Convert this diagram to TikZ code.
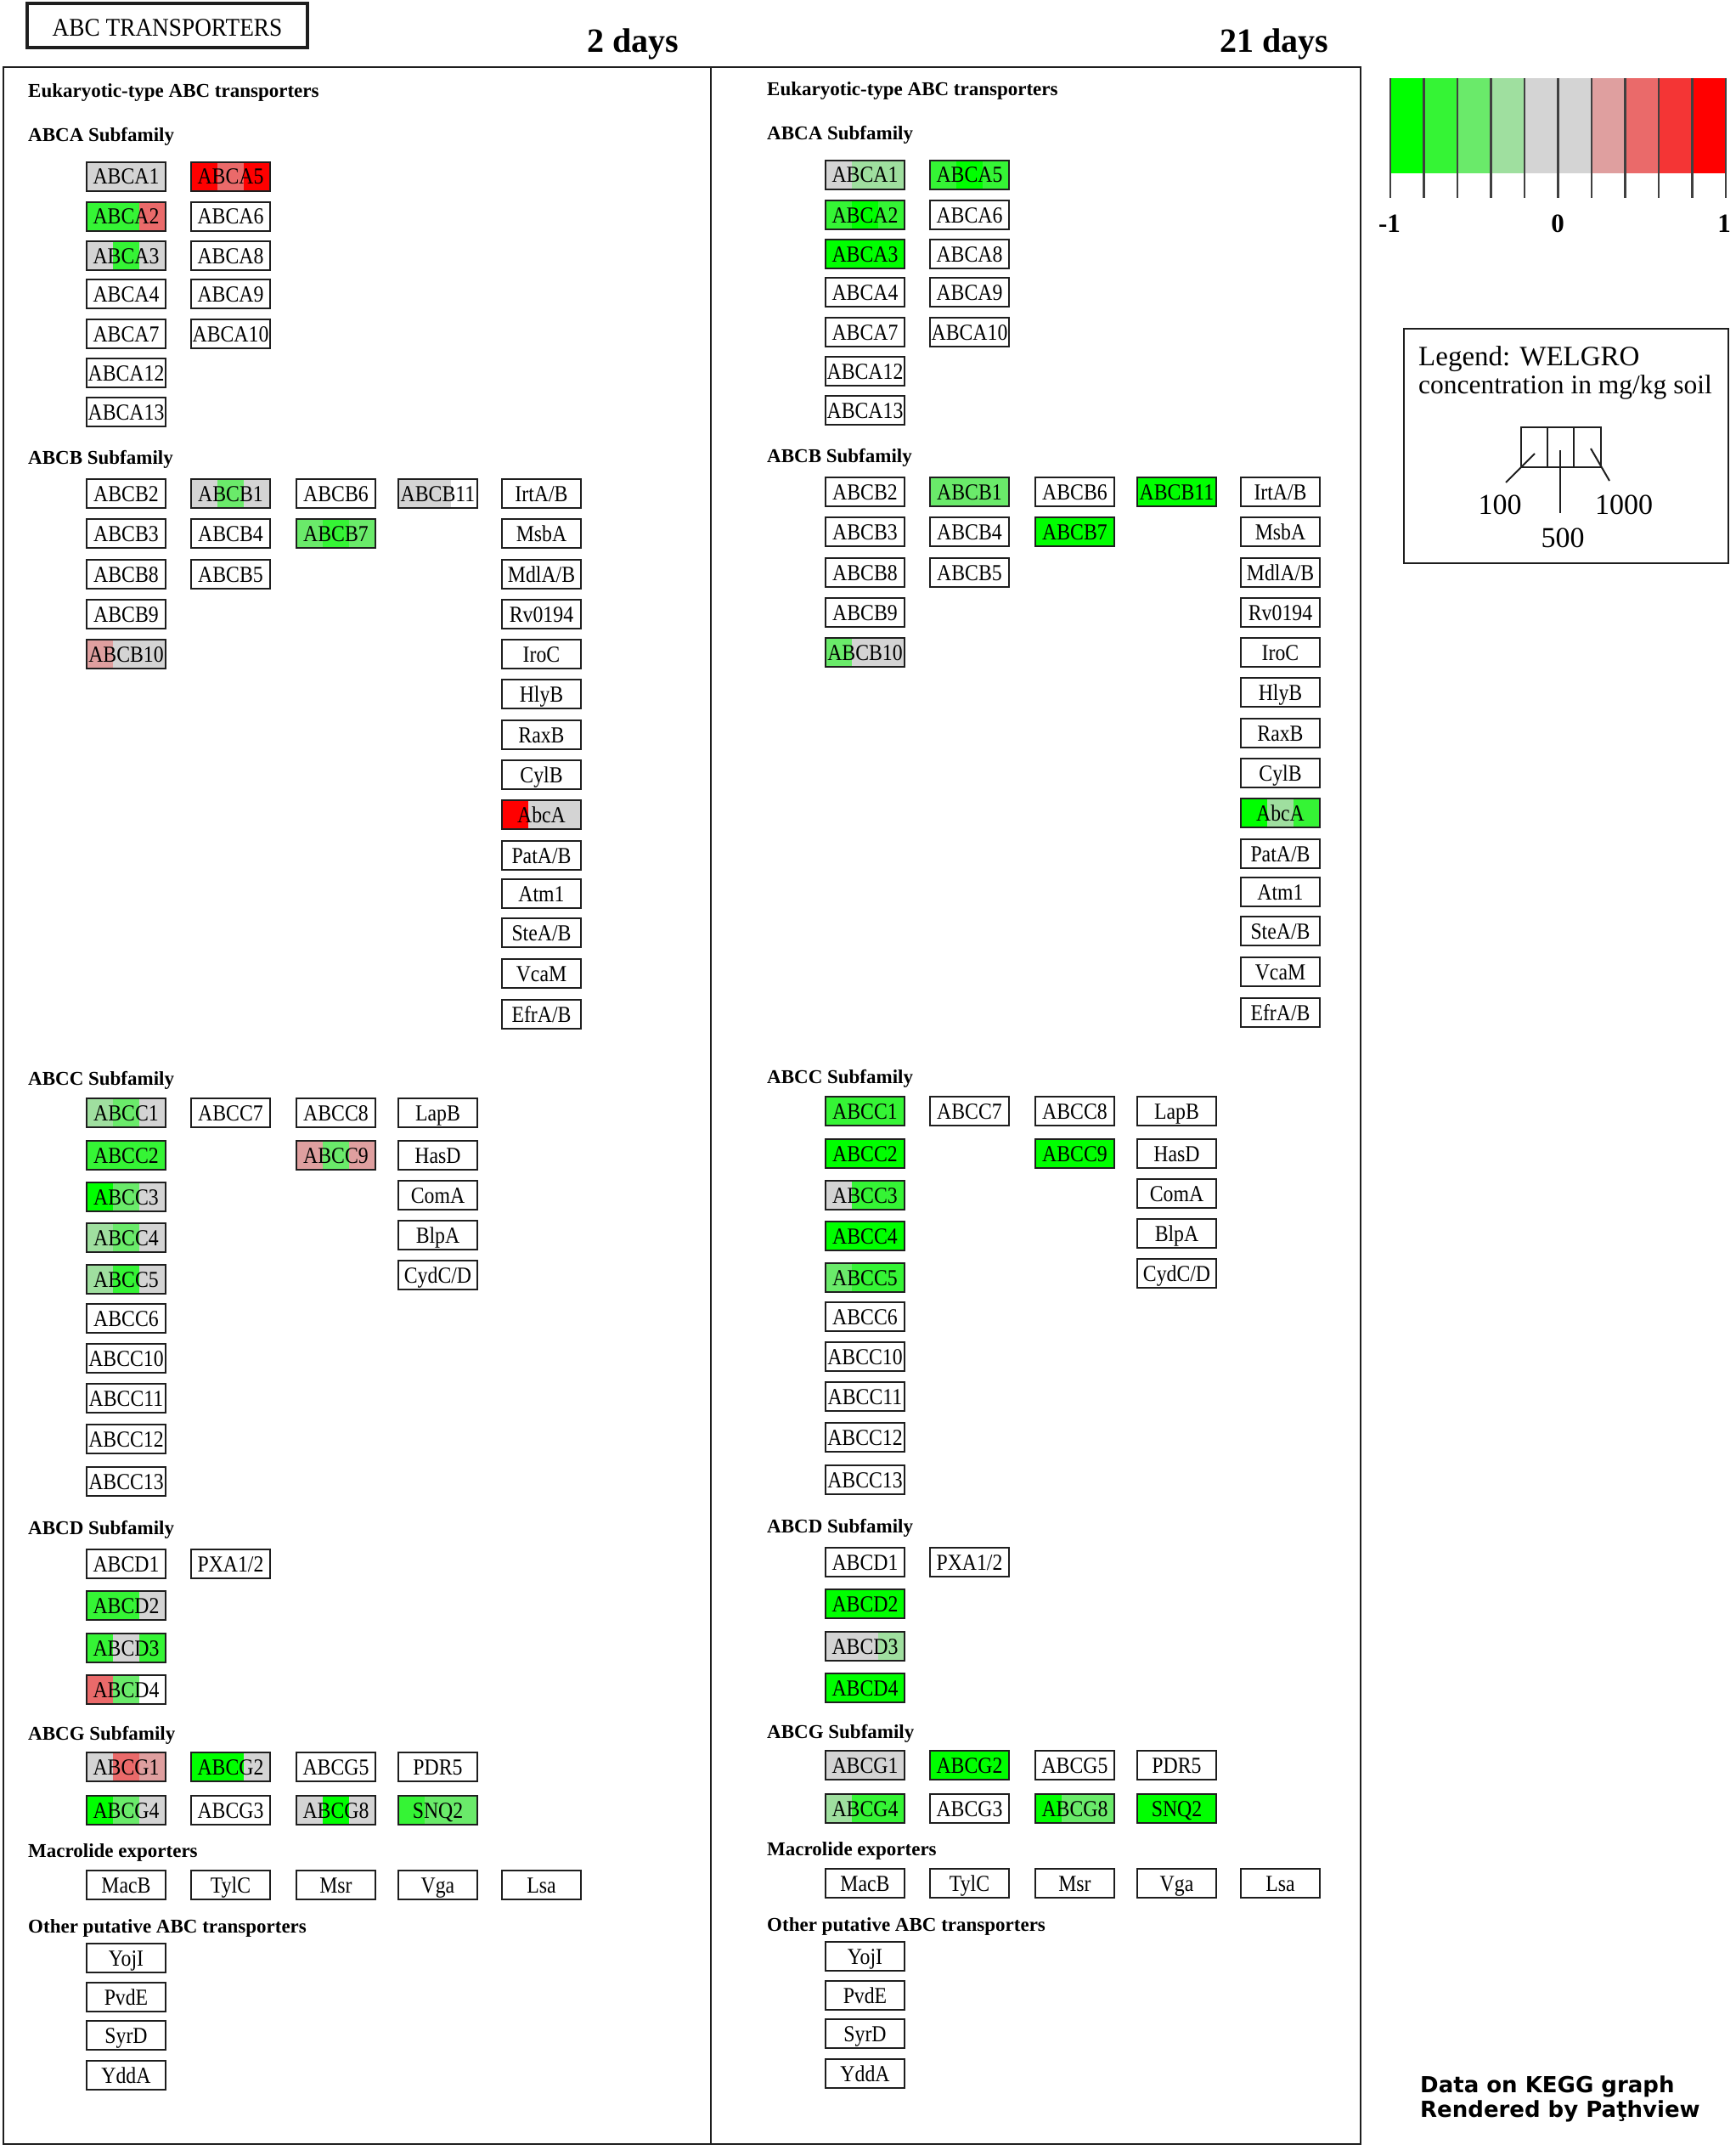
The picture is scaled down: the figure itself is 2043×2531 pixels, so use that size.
\documentclass[tikz,border=0pt]{standalone}
\usepackage{fontspec}
\setmainfont{Liberation Serif}
\newfontfamily\dejavu{DejaVu Sans}
\definecolor{kg4}{RGB}{0,255,0}
\definecolor{kg3}{RGB}{53,244,53}
\definecolor{kg2}{RGB}{106,234,106}
\definecolor{kg1}{RGB}{159,223,159}
\definecolor{kgr}{RGB}{212,212,212}
\definecolor{kr1}{RGB}{223,159,159}
\definecolor{kr2}{RGB}{234,106,106}
\definecolor{kr3}{RGB}{244,53,53}
\definecolor{kr4}{RGB}{255,0,0}
\definecolor{kline}{RGB}{30,30,30}
\newcommand\setcol[5]{\expandafter\def\csname kc@#1@#2\endcsname{{#3}{#4}{#5}}}
\newcommand\lbl[1]{\scalebox{0.88}[1]{\fontsize{27pt}{30pt}\selectfont #1}}
\newcommand\triple[5]{%
  \fill[#1] (#4,#5) rectangle ++(31,34);
  \fill[#2] (#4+31,#5) rectangle ++(31,34);
  \fill[#3] (#4+62,#5) rectangle ++(31,34);
}
\newcommand\gbox[5]{%
  \ifcsname kc@#1@#2\endcsname
    \expandafter\expandafter\expandafter\triple\csname kc@#1@#2\endcsname{#3}{#4}%
  \fi
  \node[gene] (#1#2) at (#3+46.5,#4+17) {\lbl{#5}};
}
% colours, 2 days
\setcol{L}{ABCA1}{kgr}{kgr}{kgr}
\setcol{L}{ABCA5}{kr4}{kr2}{kr4}
\setcol{L}{ABCA2}{kg3}{kg3}{kr2}
\setcol{L}{ABCA3}{kgr}{kg3}{kgr}
\setcol{L}{ABCB1}{kgr}{kg2}{kgr}
\setcol{L}{ABCB11}{kgr}{kgr}{white}
\setcol{L}{ABCB7}{kg2}{kg3}{kg2}
\setcol{L}{ABCB10}{kr1}{kgr}{kgr}
\setcol{L}{AbcA}{kr4}{kgr}{kgr}
\setcol{L}{ABCC1}{kg1}{kg2}{kgr}
\setcol{L}{ABCC2}{kg3}{kg3}{kg3}
\setcol{L}{ABCC3}{kg4}{kg2}{kgr}
\setcol{L}{ABCC4}{kg1}{kg2}{kgr}
\setcol{L}{ABCC5}{kg1}{kg3}{kgr}
\setcol{L}{ABCC9}{kr1}{kg2}{kr1}
\setcol{L}{ABCD2}{kg3}{kg3}{kgr}
\setcol{L}{ABCD3}{kg3}{kgr}{kg3}
\setcol{L}{ABCD4}{kr2}{kg2}{white}
\setcol{L}{ABCG1}{kgr}{kr2}{kr1}
\setcol{L}{ABCG2}{kg4}{kg4}{kgr}
\setcol{L}{ABCG4}{kg4}{kg2}{kgr}
\setcol{L}{ABCG8}{kgr}{kg4}{kgr}
\setcol{L}{SNQ2}{kg3}{kg2}{kg2}
% colours, 21 days
\setcol{R}{ABCA1}{kgr}{kg1}{kg1}
\setcol{R}{ABCA5}{kg3}{kg4}{kg3}
\setcol{R}{ABCA2}{kg3}{kg4}{kg3}
\setcol{R}{ABCA3}{kg4}{kg4}{kg4}
\setcol{R}{ABCB1}{kg2}{kg2}{kg2}
\setcol{R}{ABCB11}{kg4}{kg4}{kg4}
\setcol{R}{ABCB7}{kg4}{kg4}{kg4}
\setcol{R}{ABCB10}{kg2}{kgr}{kgr}
\setcol{R}{AbcA}{kg4}{kg1}{kg3}
\setcol{R}{ABCC1}{kg3}{kg3}{kg3}
\setcol{R}{ABCC2}{kg4}{kg4}{kg4}
\setcol{R}{ABCC3}{kgr}{kg3}{kg3}
\setcol{R}{ABCC4}{kg4}{kg4}{kg4}
\setcol{R}{ABCC5}{kg2}{kg3}{kg3}
\setcol{R}{ABCC9}{kg4}{kg4}{kg4}
\setcol{R}{ABCD2}{kg4}{kg4}{kg4}
\setcol{R}{ABCD3}{kgr}{kgr}{kg1}
\setcol{R}{ABCD4}{kg4}{kg4}{kg4}
\setcol{R}{ABCG1}{kgr}{kgr}{kgr}
\setcol{R}{ABCG2}{kg4}{kg4}{kg4}
\setcol{R}{ABCG4}{kg1}{kg3}{kg3}
\setcol{R}{ABCG8}{kg4}{kg2}{kg2}
\setcol{R}{SNQ2}{kg4}{kg4}{kg4}
\newcommand\panel[1]{%
  \node[sec] (#1eu) at (33,115) {Eukaryotic-type ABC transporters};
  \node[sec] (#1sa) at (33,167) {ABCA Subfamily};
  \gbox{#1}{ABCA1}{102}{191}{ABCA1}
  \gbox{#1}{ABCA2}{102}{238}{ABCA2}
  \gbox{#1}{ABCA3}{102}{284}{ABCA3}
  \gbox{#1}{ABCA4}{102}{329}{ABCA4}
  \gbox{#1}{ABCA7}{102}{376}{ABCA7}
  \gbox{#1}{ABCA12}{102}{422}{ABCA12}
  \gbox{#1}{ABCA13}{102}{468}{ABCA13}
  \gbox{#1}{ABCA5}{225}{191}{ABCA5}
  \gbox{#1}{ABCA6}{225}{238}{ABCA6}
  \gbox{#1}{ABCA8}{225}{284}{ABCA8}
  \gbox{#1}{ABCA9}{225}{329}{ABCA9}
  \gbox{#1}{ABCA10}{225}{376}{ABCA10}
  \node[sec] (#1sb) at (33,546) {ABCB Subfamily};
  \gbox{#1}{ABCB2}{102}{564}{ABCB2}
  \gbox{#1}{ABCB3}{102}{611}{ABCB3}
  \gbox{#1}{ABCB8}{102}{659}{ABCB8}
  \gbox{#1}{ABCB9}{102}{706}{ABCB9}
  \gbox{#1}{ABCB10}{102}{753}{ABCB10}
  \gbox{#1}{ABCB1}{225}{564}{ABCB1}
  \gbox{#1}{ABCB4}{225}{611}{ABCB4}
  \gbox{#1}{ABCB5}{225}{659}{ABCB5}
  \gbox{#1}{ABCB6}{349}{564}{ABCB6}
  \gbox{#1}{ABCB7}{349}{611}{ABCB7}
  \gbox{#1}{ABCB11}{469}{564}{ABCB11}
  \gbox{#1}{IrtAB}{591}{564}{IrtA/B}
  \gbox{#1}{MsbA}{591}{611}{MsbA}
  \gbox{#1}{MdlAB}{591}{659}{MdlA/B}
  \gbox{#1}{Rv0194}{591}{706}{Rv0194}
  \gbox{#1}{IroC}{591}{753}{IroC}
  \gbox{#1}{HlyB}{591}{800}{HlyB}
  \gbox{#1}{RaxB}{591}{848}{RaxB}
  \gbox{#1}{CylB}{591}{895}{CylB}
  \gbox{#1}{AbcA}{591}{942}{AbcA}
  \gbox{#1}{PatAB}{591}{990}{PatA/B}
  \gbox{#1}{Atm1}{591}{1035}{Atm1}
  \gbox{#1}{SteAB}{591}{1081}{SteA/B}
  \gbox{#1}{VcaM}{591}{1129}{VcaM}
  \gbox{#1}{EfrAB}{591}{1177}{EfrA/B}
  \node[sec] (#1sc) at (33,1277) {ABCC Subfamily};
  \gbox{#1}{ABCC1}{102}{1293}{ABCC1}
  \gbox{#1}{ABCC2}{102}{1343}{ABCC2}
  \gbox{#1}{ABCC3}{102}{1392}{ABCC3}
  \gbox{#1}{ABCC4}{102}{1440}{ABCC4}
  \gbox{#1}{ABCC5}{102}{1489}{ABCC5}
  \gbox{#1}{ABCC6}{102}{1535}{ABCC6}
  \gbox{#1}{ABCC10}{102}{1582}{ABCC10}
  \gbox{#1}{ABCC11}{102}{1629}{ABCC11}
  \gbox{#1}{ABCC12}{102}{1677}{ABCC12}
  \gbox{#1}{ABCC13}{102}{1727}{ABCC13}
  \gbox{#1}{ABCC7}{225}{1293}{ABCC7}
  \gbox{#1}{ABCC8}{349}{1293}{ABCC8}
  \gbox{#1}{ABCC9}{349}{1343}{ABCC9}
  \gbox{#1}{LapB}{469}{1293}{LapB}
  \gbox{#1}{HasD}{469}{1343}{HasD}
  \gbox{#1}{ComA}{469}{1390}{ComA}
  \gbox{#1}{BlpA}{469}{1437}{BlpA}
  \gbox{#1}{CydCD}{469}{1484}{CydC/D}
  \node[sec] (#1sd) at (33,1806) {ABCD Subfamily};
  \gbox{#1}{ABCD1}{102}{1824}{ABCD1}
  \gbox{#1}{ABCD2}{102}{1873}{ABCD2}
  \gbox{#1}{ABCD3}{102}{1923}{ABCD3}
  \gbox{#1}{ABCD4}{102}{1972}{ABCD4}
  \gbox{#1}{PXA12}{225}{1824}{PXA1/2}
  \node[sec] (#1sg) at (33,2048) {ABCG Subfamily};
  \gbox{#1}{ABCG1}{102}{2063}{ABCG1}
  \gbox{#1}{ABCG2}{225}{2063}{ABCG2}
  \gbox{#1}{ABCG5}{349}{2063}{ABCG5}
  \gbox{#1}{PDR5}{469}{2063}{PDR5}
  \gbox{#1}{ABCG4}{102}{2114}{ABCG4}
  \gbox{#1}{ABCG3}{225}{2114}{ABCG3}
  \gbox{#1}{ABCG8}{349}{2114}{ABCG8}
  \gbox{#1}{SNQ2}{469}{2114}{SNQ2}
  \node[sec] (#1sm) at (33,2186) {Macrolide exporters};
  \gbox{#1}{MacB}{102}{2202}{MacB}
  \gbox{#1}{TylC}{225}{2202}{TylC}
  \gbox{#1}{Msr}{349}{2202}{Msr}
  \gbox{#1}{Vga}{469}{2202}{Vga}
  \gbox{#1}{Lsa}{591}{2202}{Lsa}
  \node[sec] (#1so) at (33,2275) {Other putative ABC transporters};
  \gbox{#1}{YojI}{102}{2288}{YojI}
  \gbox{#1}{PvdE}{102}{2334}{PvdE}
  \gbox{#1}{SyrD}{102}{2379}{SyrD}
  \gbox{#1}{YddA}{102}{2426}{YddA}
}
\begin{document}
\begin{tikzpicture}[x=1pt,y=-1pt,
  gene/.style={draw=kline, line width=2.2pt, minimum width=93pt, minimum height=34pt,
    inner sep=0pt, text height=22pt, text depth=4pt},
  sec/.style={anchor=base west, inner sep=0pt, font=\fontsize{23pt}{26pt}\selectfont\bfseries},
  plain/.style={inner sep=0pt},
  frame/.style={draw=kline, line width=2.5pt}]
\useasboundingbox (0,0) rectangle (2043,2531);
\fill[white] (0,0) rectangle (2043,2531);
% title
\node[draw=kline, line width=3.5pt, minimum width=330pt, minimum height=52pt, inner sep=0pt,
  text height=25pt, text depth=0pt] (title) at (197,30)
  {\scalebox{0.91}[1]{\fontsize{30pt}{32pt}\selectfont ABC TRANSPORTERS}};
\node[plain, anchor=base west, font=\fontsize{40pt}{44pt}\selectfont\bfseries] (d2) at (691,62) {2 days};
\node[plain, anchor=base west, font=\fontsize{40pt}{44pt}\selectfont\bfseries] (d21) at (1436,62) {21 days};
% panels
\draw[frame] (4,79) rectangle (1602,2524);
\draw[frame] (837,79) -- (837,2524);
\begin{scope}
\panel{L}
\end{scope}
\begin{scope}[shift={(870,-2)}]
\panel{R}
\end{scope}
% colour key
\foreach \c [count=\i from 0] in {kg4,kg3,kg2,kg1,kgr,kgr,kr1,kr2,kr3,kr4}
  \fill[\c] (1637+39.5*\i,92) rectangle ++(39.5,112);
\foreach \i in {0,...,10}
  \draw[line width=2.5pt, black!75] (1637+39.5*\i,92) -- ++(0,141);
\node[plain, anchor=base, font=\fontsize{31pt}{34pt}\selectfont\bfseries] (km1) at (1636,273) {-1};
\node[plain, anchor=base, font=\fontsize{31pt}{34pt}\selectfont\bfseries] (k0) at (1834,273) {0};
\node[plain, anchor=base, font=\fontsize{31pt}{34pt}\selectfont\bfseries] (k1) at (2030,273) {1};
% legend
\draw[line width=2pt, kline] (1653,387) rectangle (2035,663);
\node[plain, anchor=base west, font=\fontsize{33pt}{36pt}\selectfont] (lg1) at (1670,430) {Legend: WELGRO};
\node[plain, anchor=base west, font=\fontsize{31.5pt}{34pt}\selectfont] (lg2) at (1670,463) {concentration in mg/kg soil};
\draw[line width=2pt, kline] (1791,503) rectangle (1885,550);
\draw[line width=2pt, kline] (1822,503) -- (1822,550);
\draw[line width=2pt, kline] (1853,503) -- (1853,550);
\coordinate (p100a) at (1807,534);
\coordinate (p100b) at (1773,568);
\coordinate (p500a) at (1837,530);
\coordinate (p500b) at (1837,604);
\coordinate (p1ka) at (1873,528);
\coordinate (p1kb) at (1895,566);
\draw[line width=2pt, kline] (p100a) -- (p100b);
\draw[line width=2pt, kline] (p500a) -- (p500b);
\draw[line width=2pt, kline] (p1ka) -- (p1kb);
\node[plain, anchor=base, font=\fontsize{34pt}{36pt}\selectfont] (l100) at (1766,605) {100};
\node[plain, anchor=base, font=\fontsize{34pt}{36pt}\selectfont] (l1000) at (1912,605) {1000};
\node[plain, anchor=base, font=\fontsize{34pt}{36pt}\selectfont] (l500) at (1840,644) {500};
% footer
\node[plain, anchor=base west, font=\dejavu\bfseries\fontsize{26pt}{30pt}\selectfont] (f1) at (1672,2463) {Data on KEGG graph};
\node[plain, anchor=base west, font=\dejavu\bfseries\fontsize{26pt}{30pt}\selectfont] (f2) at (1672,2492) {Rendered by Paţhview};
\end{tikzpicture}
\end{document}
